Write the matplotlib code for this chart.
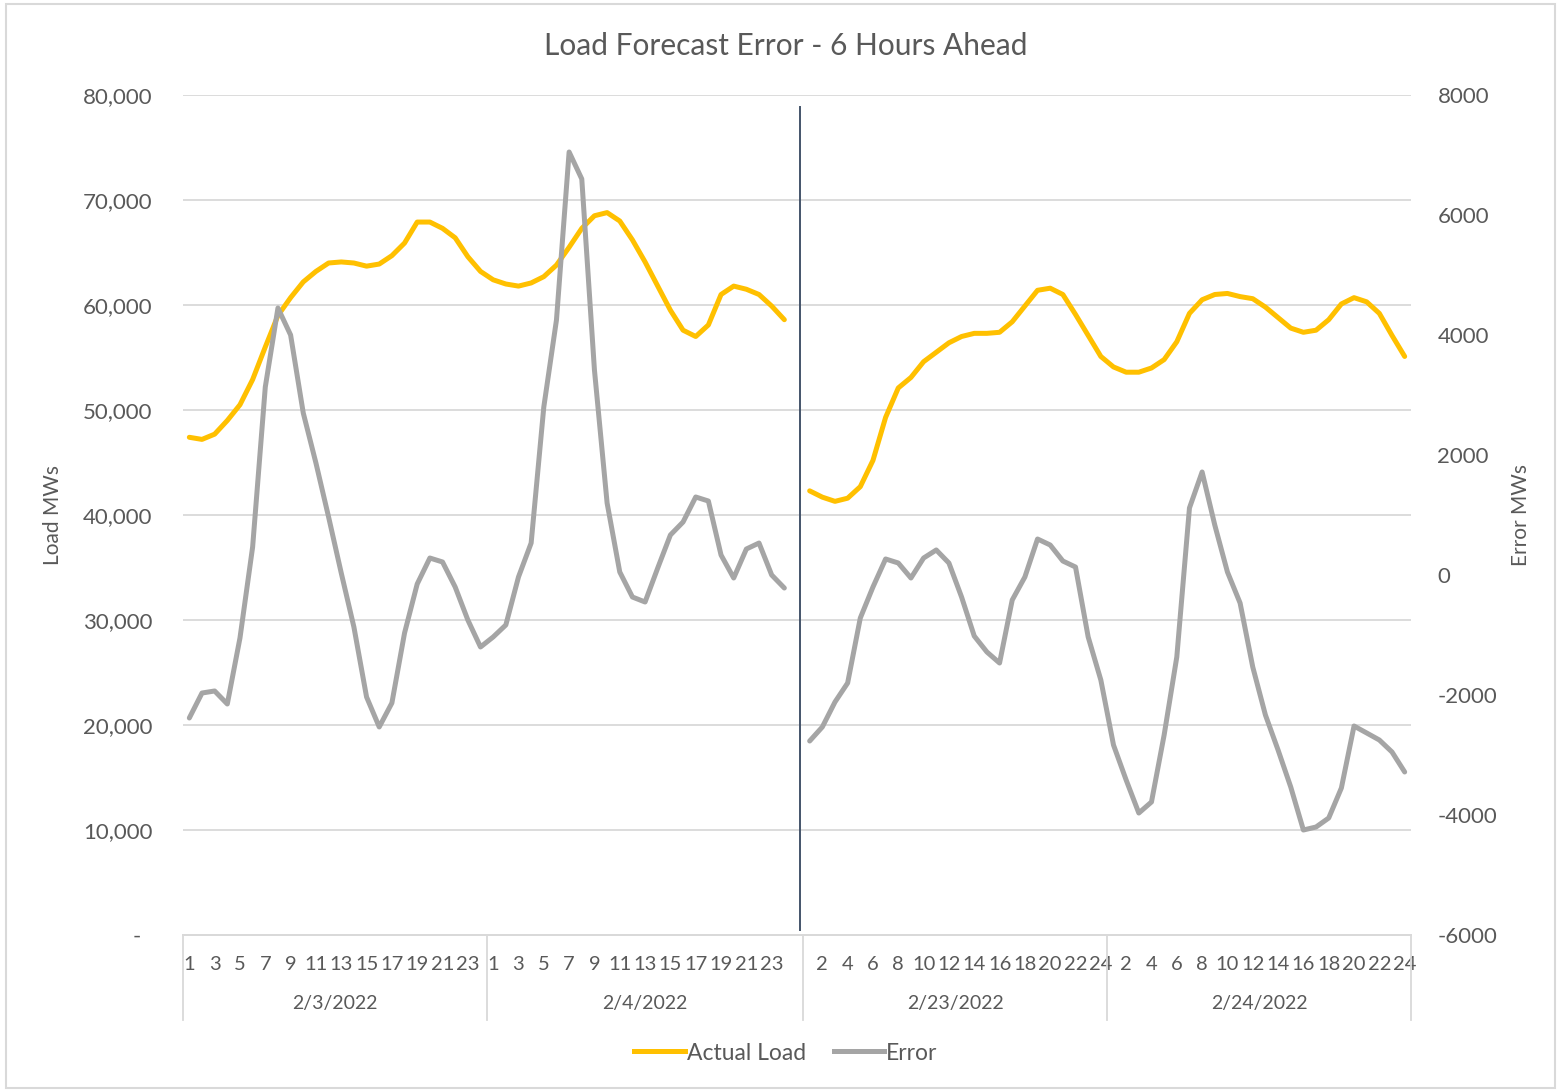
import numpy as np
import matplotlib
matplotlib.use("Agg")
import matplotlib.pyplot as plt
from matplotlib.patches import Rectangle
from matplotlib.lines import Line2D
import matplotlib.transforms as mtransforms

plt.rcParams['font.family'] = ['Lato', 'DejaVu Sans']

# ---------------- data ----------------
dates = ['2/3/2022', '2/4/2022', '2/23/2022', '2/24/2022']
hours = list(range(1, 25))

load_0203 = [47400, 47200, 47700, 49000, 50500, 52900, 56000, 59000, 60700, 62200, 63200, 64000,
             64100, 64000, 63700, 63900, 64700, 65900, 67900, 67900, 67300, 66400, 64600, 63200]
load_0204 = [62400, 62000, 61800, 62100, 62700, 63800, 65500, 67300, 68500, 68800, 68000, 66200,
             64100, 61800, 59500, 57600, 57000, 58100, 61000, 61800, 61500, 61000, 59900, 58600]
load_0223 = [42300, 41700, 41300, 41600, 42700, 45200, 49300, 52100, 53100, 54600, 55500, 56400,
             57000, 57300, 57300, 57400, 58400, 59900, 61400, 61600, 61000, 59100, 57100, 55100]
load_0224 = [54100, 53600, 53600, 54000, 54800, 56500, 59200, 60500, 61000, 61100, 60800, 60600,
             59800, 58800, 57800, 57400, 57600, 58600, 60100, 60700, 60300, 59200, 57100, 55100]

err_0203 = [-2383, -1967, -1933, -2150, -1050, 467, 3133, 4450, 4000, 2700, 1867, 967,
            33, -867, -2033, -2533, -2133, -967, -150, 283, 217, -200, -750, -1200]
err_0204 = [-1033, -833, -33, 533, 2800, 4250, 7050, 6600, 3417, 1200, 50, -367,
            -450, 117, 667, 883, 1300, 1233, 333, -50, 433, 533, 0, -217]
err_0223 = [-2767, -2533, -2117, -1800, -717, -200, 267, 200, -50, 283, 417, 200,
            -367, -1017, -1283, -1467, -417, -33, 600, 500, 233, 133, -1033, -1750]
err_0224 = [-2833, -3417, -3967, -3783, -2667, -1367, 1117, 1717, 833, 50, -467, -1533,
            -2333, -2917, -3533, -4250, -4200, -4050, -3550, -2517, -2633, -2750, -2950, -3283]

left_ticks = [0, 10000, 20000, 30000, 40000, 50000, 60000, 70000, 80000]
right_ticks = [-6000, -4000, -2000, 0, 2000, 4000, 6000, 8000]

# ---------------- build category axis (one blank category after 2/4) ----------------
n_h = len(hours)
blank_after = 1  # blank category is appended to the 2nd date group
loads = [load_0203, load_0204, load_0223, load_0224]
errs = [err_0203, err_0204, err_0223, err_0224]

cat_hours, load_all, err_all, group_bounds, group_centers = [], [], [], [-0.5], []
pos = 0
for g in range(len(dates)):
    start = pos
    cat_hours += hours
    load_all += loads[g]
    err_all += errs[g]
    pos += n_h
    if g == blank_after:
        cat_hours.append(None)
        load_all.append(np.nan)
        err_all.append(np.nan)
        blank_idx = pos
        pos += 1
    group_bounds.append(pos - 0.5)
    group_centers.append((start + pos - 1) / 2)

x = np.arange(len(cat_hours))
load_all = np.array(load_all, dtype=float)
err_all = np.array(err_all, dtype=float)

# ---------------- figure ----------------
W, H = 1561, 1091
fig = plt.figure(figsize=(W / 100, H / 100), dpi=100)
ax = fig.add_axes([183 / W, 1 - 935 / H, (1411 - 183) / W, (935 - 95) / H])
ax2 = ax.twinx()

orange = '#FFC000'
gray = '#A5A5A5'
txt = '#595959'
grid = '#D9D9D9'

ax.plot(x, load_all, color=orange, lw=3.6, solid_joinstyle='round', solid_capstyle='round', zorder=3)
ax2.plot(x, err_all, color=gray, lw=3.6, solid_joinstyle='round', solid_capstyle='round', zorder=3)

ax.set_xlim(-0.5, len(cat_hours) - 0.5)
ax.set_ylim(0, 80000)
ax2.set_ylim(-6000, 8000)

ax.set_yticks(left_ticks)
ax.set_yticklabels(['-  ' if v == 0 else f'{v:,}' for v in left_ticks])
ax2.set_yticks(right_ticks)
ax2.set_yticklabels([str(v) for v in right_ticks])

for v in left_ticks[1:]:
    ax.axhline(v, color=grid, lw=1.3, zorder=1)

for a in (ax, ax2):
    for s in ('top', 'left', 'right'):
        a.spines[s].set_visible(False)
    a.spines['bottom'].set_color(grid)
    a.spines['bottom'].set_linewidth(1.3)
    a.tick_params(axis='y', length=0, colors=txt, labelsize=16)
ax.tick_params(axis='y', pad=22)
ax2.tick_params(axis='y', pad=19)

# hour tick labels (every other category)
tick_pos = [i for i in range(len(cat_hours)) if i % 2 == 0 and cat_hours[i] is not None]
ax.set_xticks(tick_pos)
ax.set_xticklabels([str(cat_hours[i]) for i in tick_pos])
ax.tick_params(axis='x', length=0, colors=txt, labelsize=14.5, pad=15)

# group separators and date labels
trans = mtransforms.blended_transform_factory(ax.transData, ax.transAxes)
sep_depth = (1020 - 935) / (935 - 95)
for b in group_bounds:
    ax.add_line(Line2D([b, b], [0, -sep_depth], transform=trans, color=grid, lw=1.3, clip_on=False))
for c, d in zip(group_centers, dates):
    ax.text(c, -(1004 - 935) / (935 - 95), d, transform=trans, ha='center', va='center',
            fontsize=14, color=txt)

# vertical divider in the blank category
ax.add_line(Line2D([blank_idx + 0.25, blank_idx + 0.25], [(935 - 930) / 840, (935 - 107) / 840],
                   transform=trans, color='#44546A', lw=1.4, zorder=4))

# titles
fig.text(786 / W, 1 - 46 / H, 'Load Forecast Error - 6 Hours Ahead', ha='center', va='center',
         fontsize=21.5, color=txt)
fig.text(53 / W, 1 - 515 / H, 'Load MWs', rotation=90, ha='center', va='center', fontsize=15, color=txt)
fig.text(1521 / W, 1 - 515 / H, 'Error MWs', rotation=90, ha='center', va='center', fontsize=15, color=txt)

# legend
handles = [Line2D([], [], color=orange, lw=3.6), Line2D([], [], color=gray, lw=3.6)]
fig.legend(handles, ['Actual Load', 'Error'], loc='center', bbox_to_anchor=(786 / W, 1 - 1053 / H),
           ncol=2, frameon=False, fontsize=16.5, handlelength=2.2, handletextpad=0.1,
           columnspacing=1.2, labelcolor=txt)

# outer chart border
fig.patches.append(Rectangle((6 / W, 3 / H), (1555 - 6) / W, (1087 - 3) / H, transform=fig.transFigure,
                             fill=False, edgecolor=grid, lw=1.5))

fig.savefig('out.png', dpi=100)
